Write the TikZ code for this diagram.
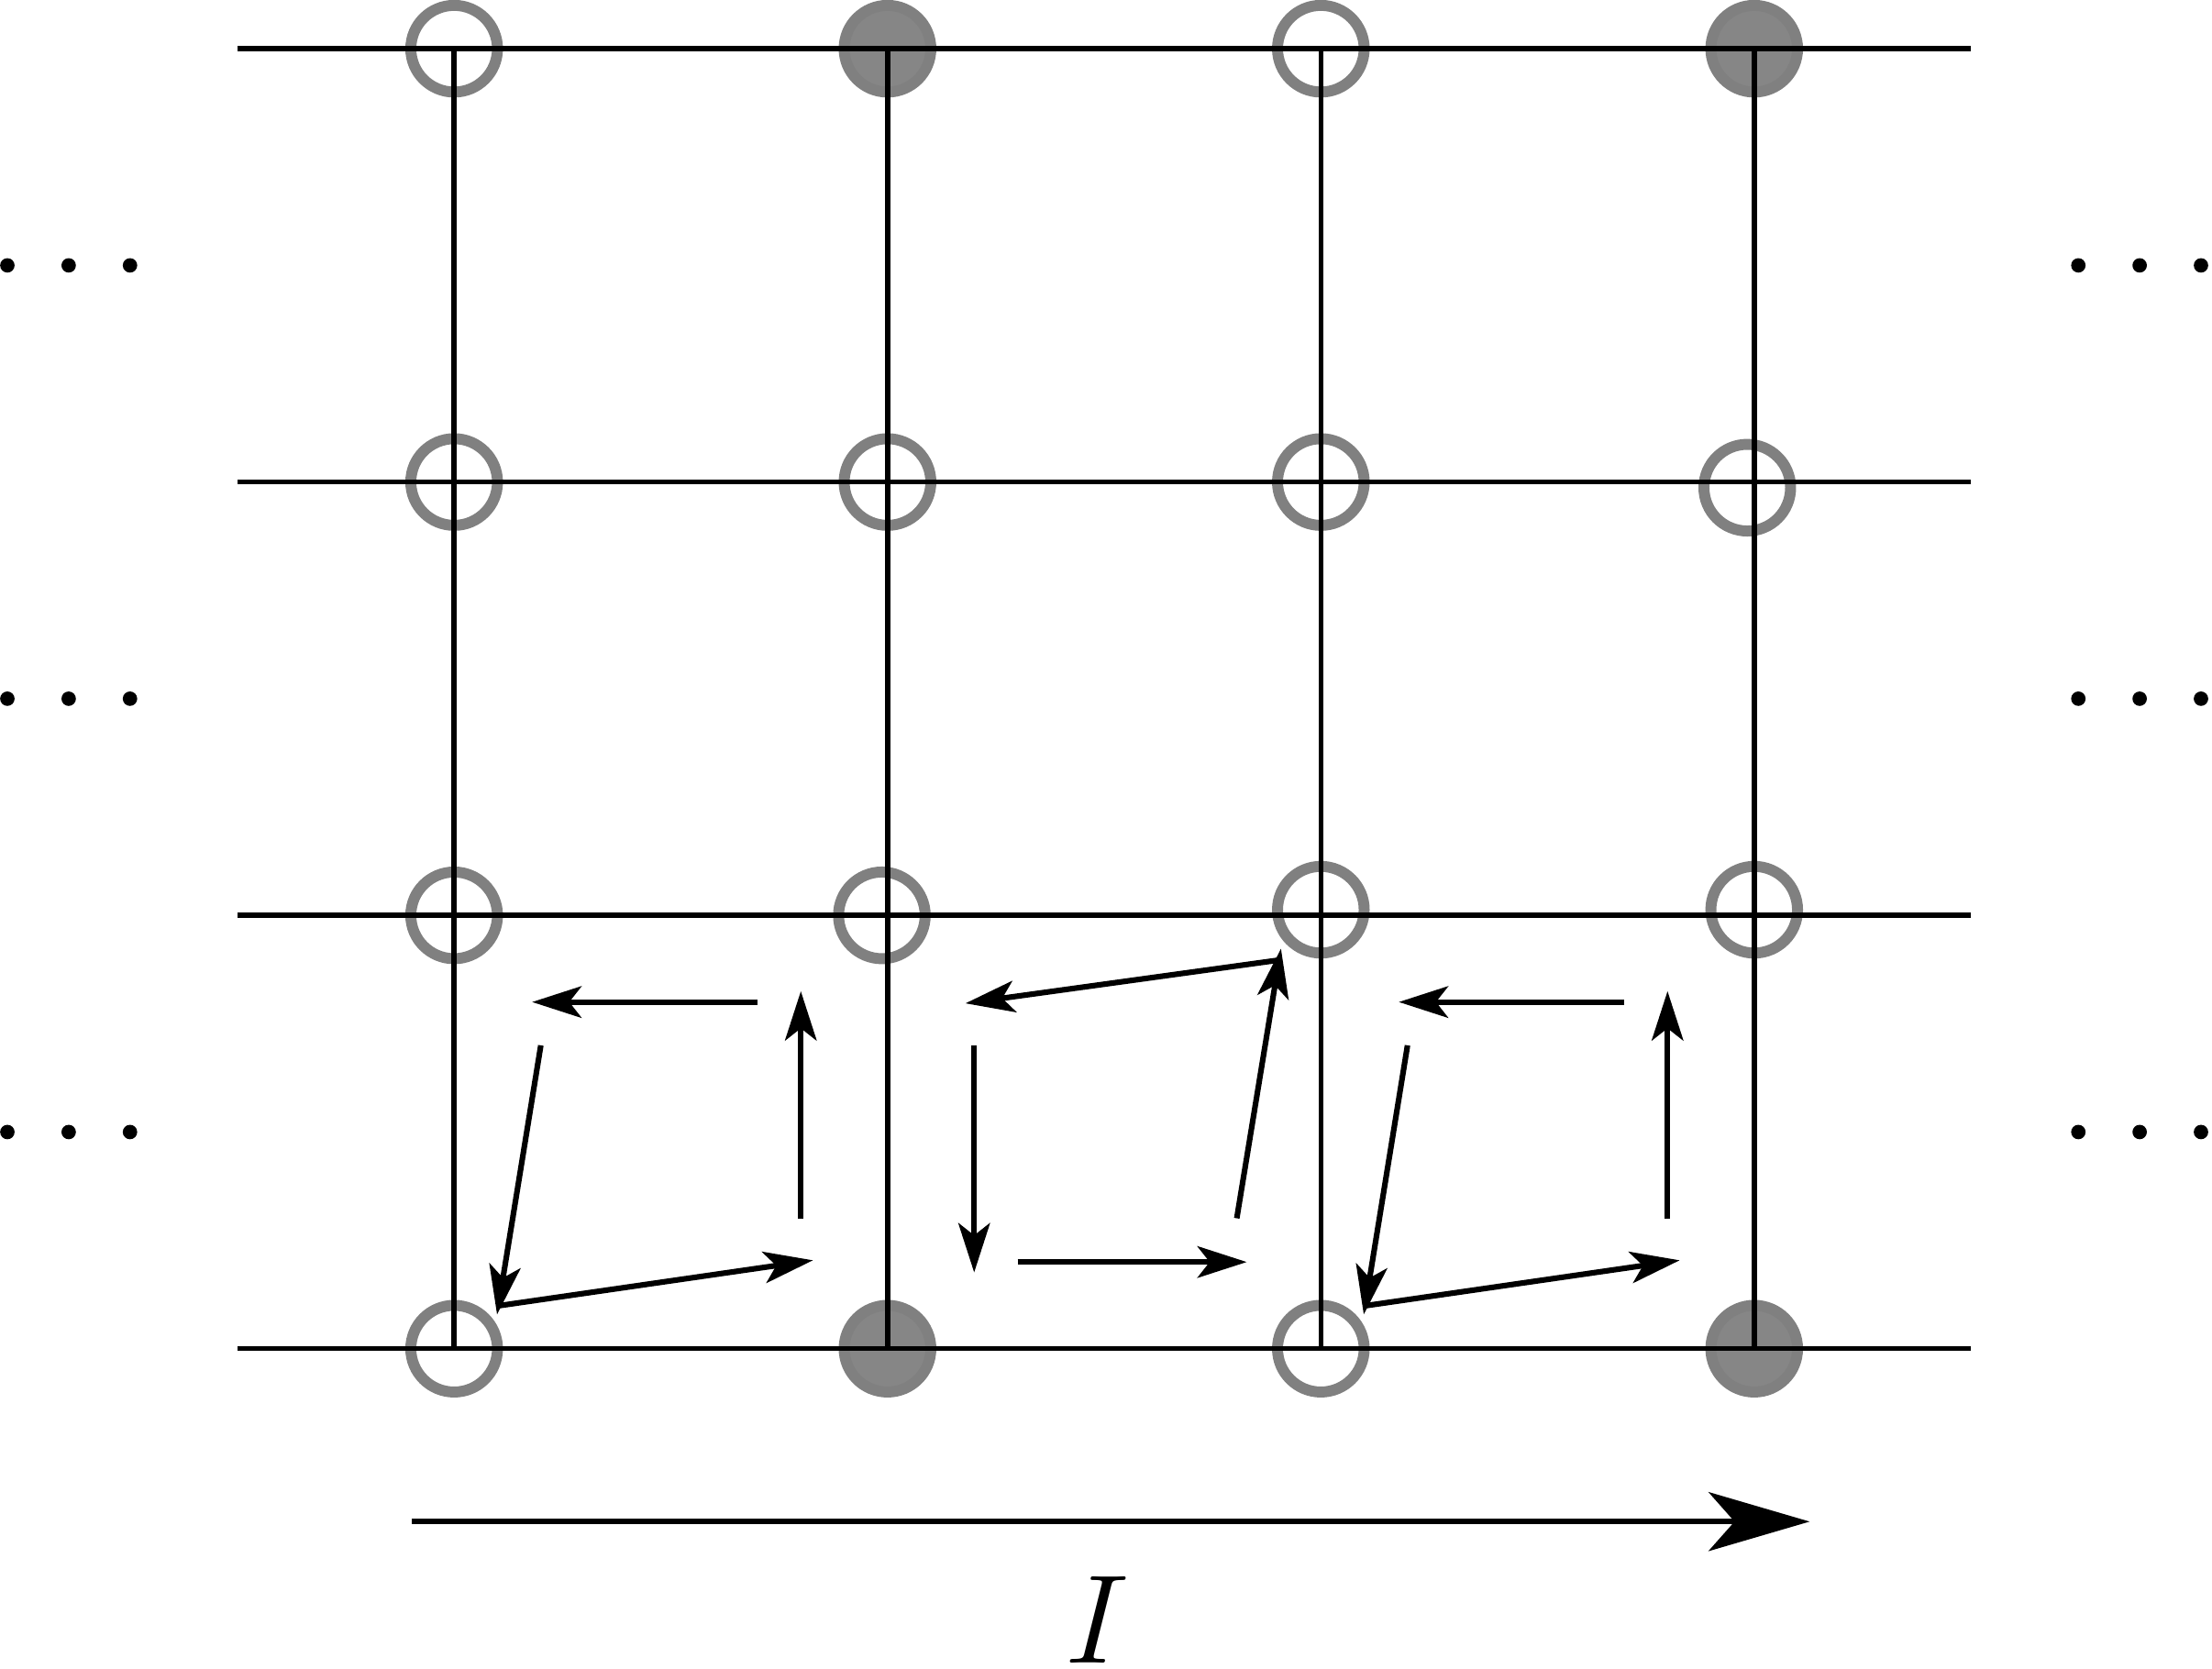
\documentclass[tikz,border=0pt]{standalone}
\usetikzlibrary{arrows.meta}
\begin{document}
\begin{tikzpicture}[x=3cm,y=3cm,
  site/.style={circle,draw=gray,line width=2.16pt,minimum size=0.6cm,inner sep=0pt},
  fullsite/.style={site,fill=gray!95!white},
  gridline/.style={line width=1pt,black},
  flow/.style={line width=1.1pt,-{Stealth[length=9.7pt,width=6.2pt,inset=2.4pt]}},
  bigflow/.style={line width=1pt,-{Stealth[length=19.9pt,width=11.6pt,inset=5.1pt]}},
  ell/.style={circle,fill=black,inner sep=0pt,minimum size=0.1cm}]
\useasboundingbox (-1.048,-0.7373) rectangle (4.0565,3.1124);
% sites
\node[site] (s00) at (0,0) {};
\node[fullsite] (s10) at (1,0) {};
\node[site] (s20) at (2,0) {};
\node[fullsite] (s30) at (3,0) {};
\node[site] (s01) at (0,1) {};
\node[site] (s11) at (0.987,1) {};
\node[site] (s21) at (2,1.013) {};
\node[site] (s31) at (3,1.013) {};
\node[site] (s02) at (0,2) {};
\node[site] (s12) at (1,2) {};
\node[site] (s22) at (2,2) {};
\node[site] (s32) at (2.984,1.987) {};
\node[site] (s03) at (0,3) {};
\node[fullsite] (s13) at (1,3) {};
\node[site] (s23) at (2,3) {};
\node[fullsite] (s33) at (3,3) {};
% grid lines
\foreach \y in {0,1,2,3} {
  \coordinate (hl\y) at (-0.5,\y);
  \coordinate (hr\y) at (3.5,\y);
  \draw[gridline] (hl\y) -- (hr\y);
}
\foreach \x in {0,1,2,3} {
  \coordinate (vb\x) at (\x,0);
  \coordinate (vt\x) at (\x,3);
  \draw[gridline] (vb\x) -- (vt\x);
}
% ellipsis dots
\foreach \y [count=\i] in {0.5,1.5,2.5} {
  \foreach \x [count=\j] in {-1.031,-0.8895,-0.748,3.748,3.8895,4.031} {
    \node[ell] (d\i\j) at (\x,\y) {};
  }
}
% cells 1 and 3
\foreach \o in {0,2} {
  \coordinate (a1s\o) at (\o+0.7,0.8);   \coordinate (a1e\o) at (\o+0.18,0.8);
  \coordinate (a2s\o) at (\o+0.8,0.3);   \coordinate (a2e\o) at (\o+0.8,0.825);
  \coordinate (a3s\o) at (\o+0.2,0.7);   \coordinate (a3e\o) at (\o+0.099,0.079);
  \coordinate (a4s\o) at (\o+0.102,0.099); \coordinate (a4e\o) at (\o+0.828,0.204);
  \draw[flow] (a1s\o) -- (a1e\o);
  \draw[flow] (a2s\o) -- (a2e\o);
  \draw[flow] (a3s\o) -- (a3e\o);
  \draw[flow] (a4s\o) -- (a4e\o);
}
% cell 2
\coordinate (b1s) at (1.2,0.7);   \coordinate (b1e) at (1.2,0.176);
\coordinate (b2s) at (1.3,0.2);   \coordinate (b2e) at (1.829,0.2);
\coordinate (b3s) at (1.806,0.301); \coordinate (b3e) at (1.908,0.923);
\coordinate (b4s) at (1.905,0.897); \coordinate (b4e) at (1.18,0.797);
\draw[flow] (b1s) -- (b1e);
\draw[flow] (b2s) -- (b2e);
\draw[flow] (b3s) -- (b3e);
\draw[flow] (b4s) -- (b4e);
% current arrow
\coordinate (cs) at (-0.098,-0.399);
\coordinate (ce) at (3.128,-0.399);
\draw[bigflow] (cs) -- (ce);
\node[anchor=base,inner sep=0pt,font=\fontsize{26.7}{30}\selectfont] (lab) at (1.485,-0.726) {$I$};
\end{tikzpicture}
\end{document}
